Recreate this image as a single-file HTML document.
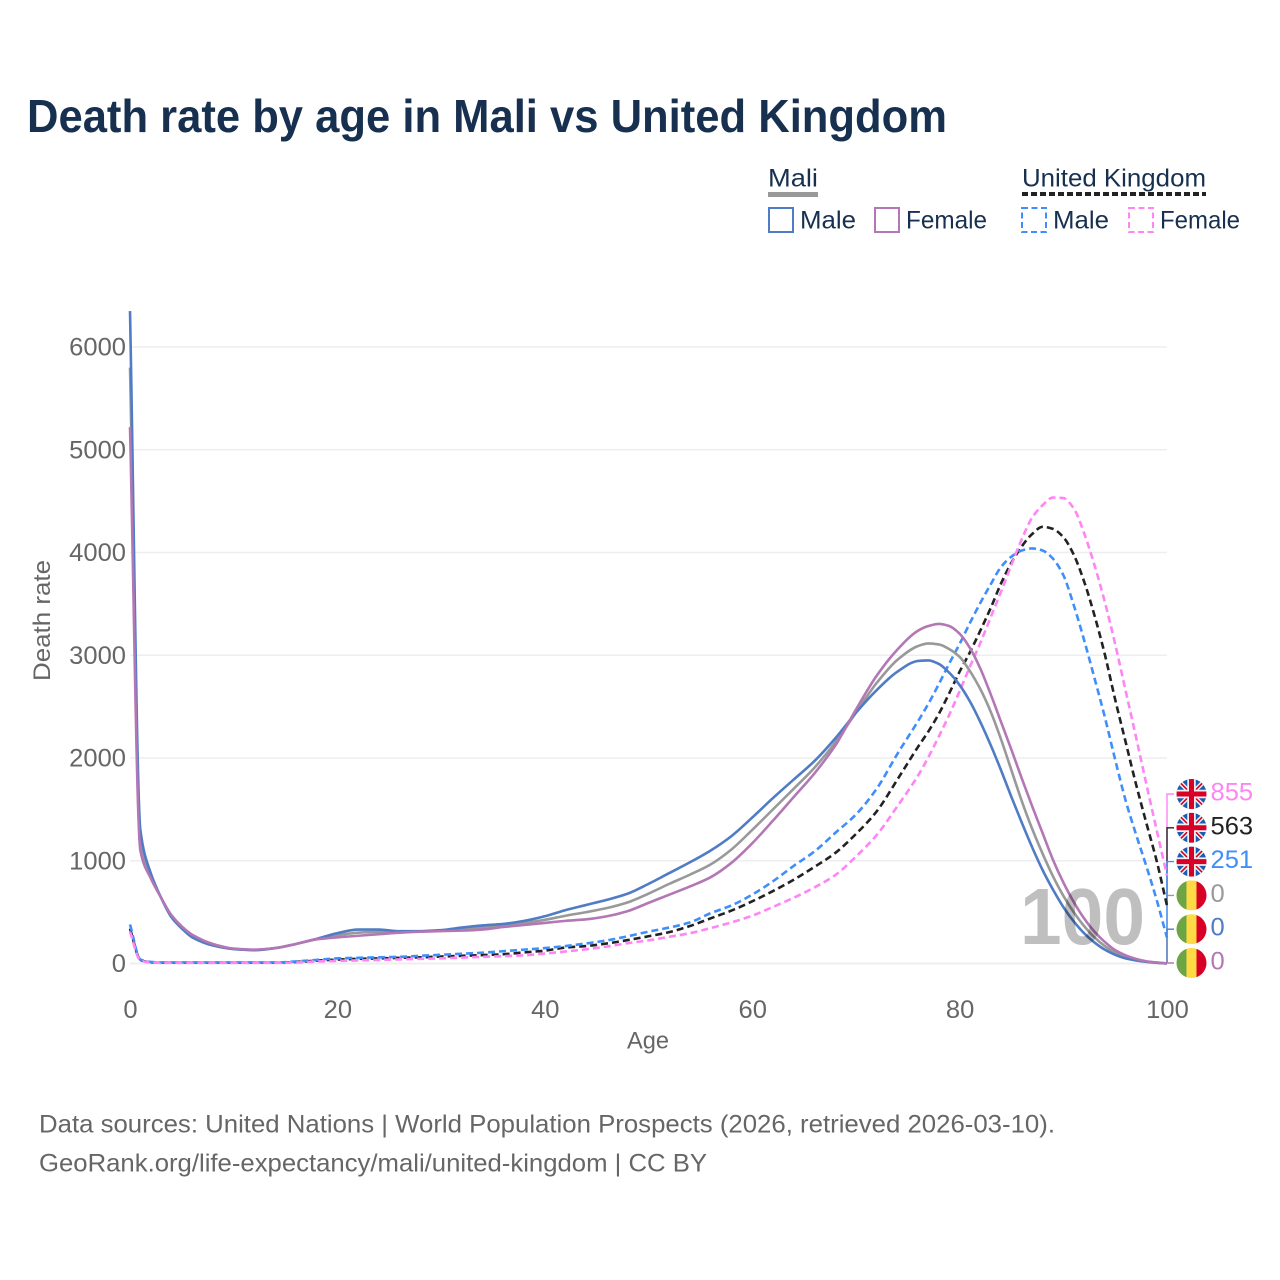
<!DOCTYPE html>
<html lang="en">
<head>
<meta charset="utf-8">
<title>Death rate by age in Mali vs United Kingdom</title>
<style>
html,body{margin:0;padding:0;background:#fff;}
svg{display:block;}
text{font-family:"Liberation Sans",sans-serif;}
</style>
</head>
<body>
<svg id="chart" xmlns="http://www.w3.org/2000/svg" width="1280" height="1280" viewBox="0 0 1280 1280">
  <rect width="1280" height="1280" fill="#ffffff"/>
  <text x="27" y="132" font-size="46" font-weight="bold" fill="#17304f" textLength="920" lengthAdjust="spacingAndGlyphs">Death rate by age in Mali vs United Kingdom</text>

  <g>
    <text x="768" y="186.5" font-size="25" fill="#17304f" textLength="50" lengthAdjust="spacingAndGlyphs">Mali</text>
    <line x1="768" x2="818" y1="194.5" y2="194.5" stroke="#999999" stroke-width="5"/>
    <text x="1022" y="186.5" font-size="25" fill="#17304f" textLength="184" lengthAdjust="spacingAndGlyphs">United Kingdom</text>
    <line x1="1022" x2="1206" y1="194" y2="194" stroke="#222222" stroke-width="4" stroke-dasharray="6 3"/>
    <rect x="769" y="208" width="24" height="24" fill="none" stroke="#4f7cc4" stroke-width="2"/>
    <text x="800" y="228.5" font-size="25" fill="#17304f" textLength="56" lengthAdjust="spacingAndGlyphs">Male</text>
    <rect x="875" y="208" width="24" height="24" fill="none" stroke="#b377b5" stroke-width="2"/>
    <text x="906" y="228.5" font-size="25" fill="#17304f" textLength="81" lengthAdjust="spacingAndGlyphs">Female</text>
    <rect x="1022" y="208" width="24" height="24" fill="none" stroke="#3f8ffa" stroke-width="2" stroke-dasharray="6 3.5"/>
    <text x="1053" y="228.5" font-size="25" fill="#17304f" textLength="56" lengthAdjust="spacingAndGlyphs">Male</text>
    <rect x="1129" y="208" width="24" height="24" fill="none" stroke="#ff85f5" stroke-width="2" stroke-dasharray="6 3.5"/>
    <text x="1160" y="228.5" font-size="25" fill="#17304f" textLength="80" lengthAdjust="spacingAndGlyphs">Female</text>
  </g>

  <defs>
    <clipPath id="flag-clip"><circle cx="0" cy="0" r="15"/></clipPath>
    <g id="flag-uk">
      <g clip-path="url(#flag-clip)">
        <rect x="-15" y="-15" width="30" height="30" fill="#1a5cb0"/>
        <path d="M-15,-15 L15,15 M15,-15 L-15,15" stroke="#f0f0f0" stroke-width="4.5"/>
        <path d="M-15,-15 L15,15 M15,-15 L-15,15" stroke="#d80027" stroke-width="1.6"/>
        <path d="M0,-15 V15 M-15,0 H15" stroke="#f0f0f0" stroke-width="8.5"/>
        <path d="M0,-15 V15 M-15,0 H15" stroke="#d80027" stroke-width="5"/>
      </g>
    </g>
    <g id="flag-mali">
      <g clip-path="url(#flag-clip)">
        <rect x="-15" y="-15" width="10" height="30" fill="#6da544"/>
        <rect x="-5" y="-15" width="10" height="30" fill="#ffda44"/>
        <rect x="5" y="-15" width="10" height="30" fill="#d80027"/>
      </g>
    </g>
  </defs>

  <g id="grid"></g>
  <g id="y-axis"></g>
  <g id="x-axis"></g>
  <g id="connectors"></g>
  <g id="series"></g>
  <text x="1020" y="944" font-size="80" font-weight="bold" fill="#000000" fill-opacity="0.25" textLength="125" lengthAdjust="spacingAndGlyphs">100</text>
  <g id="end-labels"></g>

  <text x="627" y="1048.5" font-size="24" fill="#666666" textLength="42" lengthAdjust="spacingAndGlyphs">Age</text>
  <text transform="translate(50,681) rotate(-90)" font-size="24" fill="#666666" textLength="121" lengthAdjust="spacingAndGlyphs">Death rate</text>

  <text x="39" y="1132.5" font-size="25" fill="#666666" textLength="1016" lengthAdjust="spacingAndGlyphs">Data sources: United Nations | World Population Prospects (2026, retrieved 2026-03-10).</text>
  <text x="39" y="1171.5" font-size="25" fill="#666666" textLength="668" lengthAdjust="spacingAndGlyphs">GeoRank.org/life-expectancy/mali/united-kingdom | CC BY</text>
</svg>

<script>
const ages = [0,1,2,3,4,5,6, 8,10,12,14,16,18,20, 22,24,26,28,30,32,34,36,38,40, 42,44,46,48,50,52,54,56,58,60, 62,64,66,68,70,72,74,76, 77,78,79,80,81,82,83,84,85,86,87,88,89,90,91,92,93,94,95,96,97,98,99,100];
const maliTotal = [5800,1200,860,640,460,350,265, 180,142,132,150,190,238,275, 300,308,308,312,320,335,350,370,395,425, 465,500,540,595,680,775,865,965,1110,1300, 1500,1700,1905,2150,2440,2730,2955,3090, 3115,3105,3060,2985,2845,2670,2450,2180,1880,1580,1310,1070,850,660,500,365,255,170,105,60,35,18,8,0];
const maliMale = [6350,1300,880,640,450,340,255, 175,140,130,150,190,240,295, 330,330,315,315,325,350,370,385,415,460, 520,570,620,680,775,880,985,1100,1240,1420, 1610,1790,1970,2190,2440,2660,2840,2945, 2950,2915,2830,2710,2550,2350,2125,1880,1620,1370,1130,910,720,550,410,295,205,135,85,50,30,16,7,0];
const maliFemale = [5220,1100,830,640,470,360,280, 190,145,135,150,190,235,255, 270,285,300,310,315,320,330,355,375,395, 415,430,460,510,590,670,750,840,980,1170, 1390,1620,1850,2120,2470,2800,3055,3240, 3285,3305,3285,3210,3070,2870,2620,2350,2080,1800,1530,1270,1010,790,600,440,310,210,130,80,45,22,10,0];
const ukTotal = [340,35,12,8,8,8,8, 8,8,8,8,15,28,38, 45,50,55,60,68,75,82,90,108,125, 155,170,195,228,265,305,365,440,515,605, 705,815,940,1075,1260,1480,1790,2110, 2260,2430,2630,2840,3030,3240,3460,3700,3900,4060,4180,4250,4230,4150,3980,3720,3390,3010,2570,2160,1750,1370,1000,563];
const ukMale = [380,40,15,10,10,10,10, 10,10,10,10,20,35,50, 55,60,65,75,85,95,105,120,135,150, 170,195,225,265,310,350,400,490,565,670, 800,950,1090,1270,1450,1700,2040,2360, 2530,2720,2920,3110,3315,3510,3690,3860,3960,4020,4040,4020,3940,3780,3490,3150,2780,2400,1985,1590,1260,950,620,251];
const ukFemale = [310,30,10,6,6,6,6, 6,6,6,6,10,20,25, 30,35,40,45,50,58,65,72,80,97, 117,138,165,198,225,260,295,345,400,465, 550,640,740,860,1040,1250,1530,1830, 2010,2210,2420,2650,2890,3120,3370,3620,3880,4130,4340,4460,4535,4530,4430,4190,3880,3520,3110,2660,2210,1750,1300,855];
const yTicks = [0,1000,2000,3000,4000,5000,6000];
const xTicks = [0,20,40,60,80,100];

const NS = 'http://www.w3.org/2000/svg';
const DIGIT_W = 14.2;
const xScale = function (age) { return 130 + age * 10.37; };
const yScale = function (v) { return 963.5 - v * 0.10275; };

function make(tag, parent, props) {
  const el = document.createElementNS(NS, tag);
  for (const k in props) el.setAttribute(k, props[k]);
  parent.appendChild(el);
  return el;
}

/* monotone cubic path through the data */
function linePath(xs, ys) {
  const n = xs.length, m = [], t = [];
  for (let i = 0; i < n - 1; i++) m.push((ys[i + 1] - ys[i]) / (xs[i + 1] - xs[i]));
  t.push(m[0]);
  for (let i = 1; i < n - 1; i++) {
    t.push(m[i - 1] * m[i] <= 0 ? 0 : 2 * m[i - 1] * m[i] / (m[i - 1] + m[i]));
  }
  t.push(m[n - 2]);
  let d = 'M' + xs[0].toFixed(2) + ',' + ys[0].toFixed(2);
  for (let i = 0; i < n - 1; i++) {
    const h = (xs[i + 1] - xs[i]) / 3;
    d += 'C' + (xs[i] + h).toFixed(2) + ',' + (ys[i] + t[i] * h).toFixed(2) + ' ' +
      (xs[i + 1] - h).toFixed(2) + ',' + (ys[i + 1] - t[i + 1] * h).toFixed(2) + ' ' +
      xs[i + 1].toFixed(2) + ',' + ys[i + 1].toFixed(2);
  }
  return d;
}

const gridG = document.getElementById('grid');
const yAxisG = document.getElementById('y-axis');
const xAxisG = document.getElementById('x-axis');
const seriesG = document.getElementById('series');
const connG = document.getElementById('connectors');
const labelG = document.getElementById('end-labels');

yTicks.forEach(function (t) {
  const line = make('line', gridG, { x1: 130, x2: 1167, y1: yScale(t), y2: yScale(t), stroke: '#eeeeee', 'stroke-width': t === 0 ? 2 : 1.5 });
  
  
  const s = String(t);
  const label = make('text', yAxisG, { x: 126 - s.length * DIGIT_W, y: yScale(t) + 8.5, 'font-size': 25, fill: '#666666', textLength: s.length * DIGIT_W, lengthAdjust: 'spacingAndGlyphs' });
  
  
  label.textContent = s;
});

xTicks.forEach(function (t) {
  const s = String(t);
  const label = make('text', xAxisG, { x: xScale(t) + 0.5 - s.length * DIGIT_W / 2, y: 1018, 'font-size': 25, fill: '#666666', textLength: s.length * DIGIT_W, lengthAdjust: 'spacingAndGlyphs' });
  
  
  label.textContent = s;
});

const lineDefs = [
  { id: 'uk-total', vals: ukTotal, color: '#222222', dash: '7 4' },
  { id: 'uk-male', vals: ukMale, color: '#3f8ffa', dash: '7 4' },
  { id: 'uk-female', vals: ukFemale, color: '#ff85f5', dash: '7 4' },
  { id: 'mali-total', vals: maliTotal, color: '#999999', dash: '' },
  { id: 'mali-male', vals: maliMale, color: '#4f7cc4', dash: '' },
  { id: 'mali-female', vals: maliFemale, color: '#b377b5', dash: '' }
];

const xsPx = ages.map(xScale);
lineDefs.forEach(function (s) {
  const p = make('path', seriesG, { d: linePath(xsPx, s.vals.map(yScale)), fill: 'none', stroke: s.color, 'stroke-width': 2.6, 'stroke-linejoin': 'round' });
  if (s.dash) p.setAttribute('stroke-dasharray', s.dash);
  
  
});

/* end labels: slot counted bottom-up; drawn in the order the connectors overlap */
const endLabelDefs = [
  { id: 'uk-female', slot: 5, vals: ukFemale, color: '#ff85f5', flag: '#flag-uk' },
  { id: 'uk-total', slot: 4, vals: ukTotal, color: '#222222', flag: '#flag-uk' },
  { id: 'mali-total', slot: 2, vals: maliTotal, color: '#999999', flag: '#flag-mali' },
  { id: 'uk-male', slot: 3, vals: ukMale, color: '#3f8ffa', flag: '#flag-uk' },
  { id: 'mali-male', slot: 1, vals: maliMale, color: '#4f7cc4', flag: '#flag-mali' },
  { id: 'mali-female', slot: 0, vals: maliFemale, color: '#b377b5', flag: '#flag-mali' }
];

endLabelDefs.forEach(function (s) {
  const cy = 963 - s.slot * 33.8;
  const last = s.vals[s.vals.length - 1];
  const str = String(last);
  const c = make('path', connG, { d: 'M1167,' + yScale(last) + ' V' + cy + ' H1174', fill: 'none', stroke: s.color, 'stroke-width': 1.4 });
  
  
  const f = make('use', labelG, { href: s.flag, transform: 'translate(1191.5,' + cy + ')' });
  
  
  const t = make('text', labelG, { x: 1210.5, y: cy + 6.5, 'font-size': 25, fill: s.color, textLength: str.length * DIGIT_W, lengthAdjust: 'spacingAndGlyphs' });
  
  
  t.textContent = str;
});
</script>
</body>
</html>
